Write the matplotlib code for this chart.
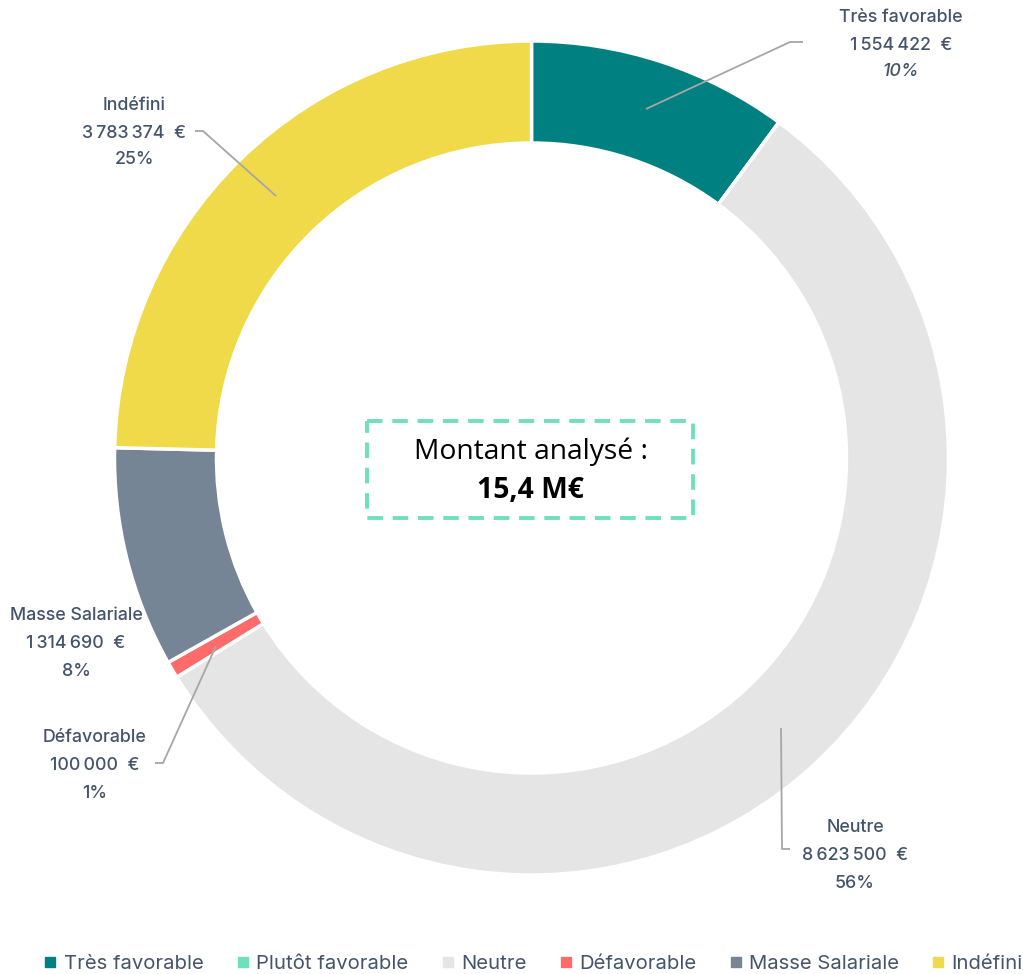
import matplotlib
matplotlib.use("Agg")
import matplotlib.pyplot as plt
from matplotlib.patches import Rectangle
from matplotlib.lines import Line2D

categories = ["Très favorable", "Plutôt favorable", "Neutre", "Défavorable", "Masse Salariale", "Indéfini"]
values = [1554422, 0, 8623500, 100000, 1314690, 3783374]
amount_labels = ["1\u202f554\u202f422  €", "0  €", "8\u202f623\u202f500  €", "100\u202f000  €",
                 "1\u202f314\u202f690  €", "3\u202f783\u202f374  €"]
pct_labels = ["10%", "0%", "56%", "1%", "8%", "25%"]
colors = ["#008080", "#70E0BA", "#E5E5E5", "#FF6B6B", "#768595", "#F0DA4A"]
center_title = "Montant analysé :"
center_value = "15,4 M€"

TXT = "#44546A"
W, H = 1023, 974
fig = plt.figure(figsize=(W / 100, H / 100), dpi=100)
ax = fig.add_axes([0, 0, 1, 1])

cx, cy, R, ring = 531.5, 458, 417, 102
wedges, _ = ax.pie(values, colors=colors, startangle=270, counterclock=True,
                   center=(cx, cy), radius=R,
                   wedgeprops=dict(width=ring, edgecolor="white", linewidth=2.5))
ax.set_xlim(0, W)
ax.set_ylim(H, 0)
ax.set_aspect("auto")
ax.axis("off")

font = ["Inter", "DejaVu Sans"]
fs = 12.8

# label layout: (category index, center x, first line y)
label_pos = {0: (901, 17), 5: (134, 105), 4: (76, 616), 3: (95, 738), 2: (855, 828)}
for i, (lx, ly) in label_pos.items():
    ax.text(lx, ly, categories[i], ha="center", va="center", color=TXT, fontsize=fs, family=font,
            weight="medium")
    ax.text(lx, ly + 28, amount_labels[i], ha="center", va="center", color=TXT, fontsize=fs, family=font,
            weight="medium")
    ax.text(lx, ly + 55, pct_labels[i], ha="center", va="center", color=TXT, fontsize=fs, family=font,
            weight="medium", style="italic" if i == 0 else "normal")

lc = "#A6A6A6"
leaders = [
    ([646, 790, 803], [109, 42, 42]),
    ([195, 203, 276], [131, 131, 196]),
    ([155, 163, 216], [763, 763, 646]),
    ([781, 782, 790], [728, 849, 849]),
]
for xs, ys in leaders:
    ax.plot(xs, ys, color=lc, lw=1.3, solid_capstyle="butt")

# center box
ax.add_patch(Rectangle((367, 421), 326, 97, fill=False, edgecolor="#70E0BA",
                       linewidth=2.8, linestyle=(0, (4, 2.5))))
ax.text(531, 452, center_title, ha="center", va="center", fontsize=20.3, color="black", family="Open Sans")
ax.text(530, 490, center_value, ha="center", va="center", fontsize=20.3, color="black",
        family="Open Sans", weight="bold")

handles = [Line2D([0], [0], marker="s", linestyle="none", markersize=7, markerfacecolor=c,
                  markeredgecolor=c) for c in colors]
leg = fig.legend(handles, categories, loc="center", bbox_to_anchor=(534 / W, 1 - 964 / H), ncol=6,
                 frameon=False, handlelength=0.5, handletextpad=0.4, columnspacing=1.7,
                 prop=dict(family=font, size=14.6))
for t in leg.get_texts():
    t.set_color(TXT)

fig.savefig("out.png", dpi=100)
